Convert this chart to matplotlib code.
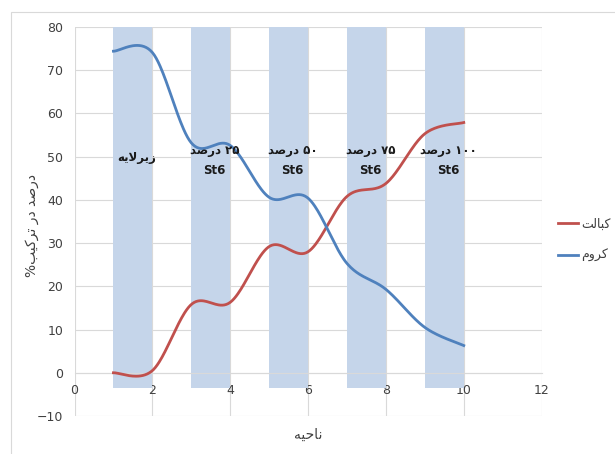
import numpy as np
import matplotlib
matplotlib.use("Agg")
import matplotlib.pyplot as plt
from matplotlib.patches import Rectangle
from matplotlib import font_manager
from matplotlib.ft2font import FT2Font

# ---------------- data ----------------
x_vals = [1, 2, 3, 4, 5, 6, 7, 8, 9, 10]
cobalt = [0.0, 0.5, 15.8, 16.3, 29.2, 28.0, 40.8, 43.8, 55.3, 57.9]   # کبالت
chrome = [74.4, 74.1, 53.2, 52.6, 40.6, 40.4, 25.3, 19.3, 10.5, 6.3]  # کروم
series_names = ["کبالت", "کروم"]
band_starts = [1, 3, 5, 7, 9]
band_bottom = -3.5
band_top = 80
band_labels_top = ["زیرلایه", "۲۵ درصد", "۵۰ درصد", "۷۵ درصد", "۱۰۰ درصد"]
band_labels_bottom = ["", "St6", "St6", "St6", "St6"]
x_ticks = [0, 2, 4, 6, 8, 10, 12]
y_ticks = [-10, 0, 10, 20, 30, 40, 50, 60, 70, 80]
x_title = "ناحیه"
y_title = "درصد در ترکیب%"

# ---------------- minimal Persian shaping (matplotlib has no RTL shaping) ----------------
_font_path = font_manager.findfont(font_manager.FontProperties(family='DejaVu Sans', weight='bold'))
_cmap = set(FT2Font(_font_path).get_charmap().keys())
_font_path2 = font_manager.findfont(font_manager.FontProperties(family='DejaVu Sans'))
_cmap &= set(FT2Font(_font_path2).get_charmap().keys())


def _ok(forms):
    return all(ord(c) in _cmap for c in forms if c)


FORMS = {
    'ا': ('\uFE8D', '\uFE8E', None, None),
    'ب': ('\uFE8F', '\uFE90', '\uFE91', '\uFE92'),
    'ت': ('\uFE95', '\uFE96', '\uFE97', '\uFE98'),
    'ح': ('\uFEA1', '\uFEA2', '\uFEA3', '\uFEA4'),
    'د': ('\uFEA9', '\uFEAA', None, None),
    'ر': ('\uFEAD', '\uFEAE', None, None),
    'ز': ('\uFEAF', '\uFEB0', None, None),
    'ص': ('\uFEB9', '\uFEBA', '\uFEBB', '\uFEBC'),
    'ل': ('\uFEDD', '\uFEDE', '\uFEDF', '\uFEE0'),
    'م': ('\uFEE1', '\uFEE2', '\uFEE3', '\uFEE4'),
    'ن': ('\uFEE5', '\uFEE6', '\uFEE7', '\uFEE8'),
    'ه': ('\uFEE9', '\uFEEA', '\uFEEB', '\uFEEC'),
    'و': ('\uFEED', '\uFEEE', None, None),
    'ک': ('\uFB8E', '\uFB8F', '\uFB90', '\uFB91'),
    'ی': ('\uFBFC', '\uFBFD', '\uFBFE', '\uFBFF'),
}
if not _ok(FORMS['ک']):
    FORMS['ک'] = ('\uFED9', '\uFEDA', '\uFEDB', '\uFEDC')
if not _ok(FORMS['ی']):
    FORMS['ی'] = ('\uFEEF', '\uFEF0', '\uFEF3', '\uFEF4')


def _dual(c):
    f = FORMS.get(c)
    return f is not None and f[2] is not None


def shape_word(w):
    out = []
    i = 0
    n = len(w)
    while i < n:
        c = w[i]
        if c not in FORMS:
            out.append(c)
            i += 1
            continue
        jp = i > 0 and _dual(w[i - 1])
        if c == 'ل' and i + 1 < n and w[i + 1] == 'ا':
            out.append('\uFEFC' if jp else '\uFEFB')
            i += 2
            continue
        jn = _dual(c) and i + 1 < n and w[i + 1] in FORMS
        f = FORMS[c]
        if jp and jn:
            out.append(f[3])
        elif jp:
            out.append(f[1])
        elif jn:
            out.append(f[2])
        else:
            out.append(f[0])
        i += 1
    return out


def fa(s):
    words = s.split(' ')
    vis = []
    for w in words:
        if all(ch.isdigit() for ch in w):
            vis.append(w)
        else:
            vis.append(''.join(reversed(shape_word(w))))
    return ' '.join(reversed(vis))


# ---------------- Excel-like smoothing (Catmull-Rom Bezier) ----------------
def smooth(xs, ys, n=40):
    xs = np.asarray(xs, float)
    ys = np.asarray(ys, float)
    px, py = [], []
    m = len(xs)
    for i in range(m - 1):
        x0, y0 = (xs[i - 1], ys[i - 1]) if i > 0 else (xs[i], ys[i])
        x1, y1 = xs[i], ys[i]
        x2, y2 = xs[i + 1], ys[i + 1]
        x3, y3 = (xs[i + 2], ys[i + 2]) if i + 2 < m else (xs[i + 1], ys[i + 1])
        c1x, c1y = x1 + (x2 - x0) / 6, y1 + (y2 - y0) / 6
        c2x, c2y = x2 - (x3 - x1) / 6, y2 - (y3 - y1) / 6
        t = np.linspace(0, 1, n, endpoint=(i == m - 2))
        a = (1 - t) ** 3
        b = 3 * (1 - t) ** 2 * t
        c = 3 * (1 - t) * t ** 2
        d = t ** 3
        px.append(a * x1 + b * c1x + c * c2x + d * x2)
        py.append(a * y1 + b * c1y + c * c2y + d * y2)
    return np.concatenate(px), np.concatenate(py)


# ---------------- figure ----------------
plt.rcParams['font.family'] = ['DejaVu Sans']
fig = plt.figure(figsize=(6.15, 4.54), dpi=100)
ax = fig.add_axes([74.5 / 615, 1 - 416 / 454, (541.6 - 74.5) / 615, (416 - 27) / 454])

# outer chart border
fig.patches.append(Rectangle((11 / 615, -0.01), 1.0, 1 - 12 / 454 + 0.01,
                             transform=fig.transFigure, fill=False,
                             edgecolor='#d9d9d9', linewidth=0.8))

band_color = '#c5d5ea'
ax.bar(band_starts, [band_top - band_bottom] * len(band_starts), bottom=band_bottom,
       width=1.0, align='edge', color=band_color, zorder=2)

red = '#c0504d'
blue = '#4f81bd'
sx, sy = smooth(x_vals, cobalt)
ax.plot(sx, sy, color=red, lw=2.0, zorder=4, label=fa(series_names[0]))
sx, sy = smooth(x_vals, chrome)
ax.plot(sx, sy, color=blue, lw=2.0, zorder=4, label=fa(series_names[1]))

# band labels
for xs, top, bot in zip(band_starts, band_labels_top, band_labels_bottom):
    if bot:
        ax.text(xs + 0.6, 51.5, fa(top), ha='center', va='center', fontsize=8.5,
                fontweight='bold', color='#1a1a1a', zorder=5)
        ax.text(xs + 0.6, 46.8, bot, ha='center', va='center', fontsize=8.5,
                fontweight='bold', color='#1a1a1a', zorder=5)
    else:
        ax.text(xs + 0.6, 49.8, fa(top), ha='center', va='center', fontsize=8.5,
                fontweight='bold', color='#1a1a1a', zorder=5)

ax.set_xlim(0, 12)
ax.set_ylim(-10, 80)
ax.set_xticks(x_ticks)
ax.set_yticks(y_ticks)
ax.grid(True, color='#d9d9d9', linewidth=0.8, zorder=1)
ax.set_axisbelow(True)
for s in ['top', 'right', 'left']:
    ax.spines[s].set_visible(False)
ax.spines['bottom'].set_position(('data', 0))
ax.spines['bottom'].set_color('#d9d9d9')
ax.spines['bottom'].set_linewidth(0.8)
ax.tick_params(axis='both', length=0, labelsize=9, colors='#404040')
ax.tick_params(axis='x', pad=8)
ax.tick_params(axis='y', pad=8)

ax.set_xlabel(fa(x_title), fontsize=10, color='#404040', labelpad=22)
ax.set_ylabel(fa(y_title), fontsize=10, color='#404040', labelpad=6)
ax.yaxis.set_label_coords(-35 / 467, 0.49)

leg = fig.legend(handles=ax.get_lines(), loc='center left',
                 bbox_to_anchor=(558 / 615, 1 - 240 / 454), frameon=False,
                 fontsize=9, handlelength=1.6, labelspacing=1.5, handletextpad=0.25,
                 borderpad=0.0, borderaxespad=0.0)
for t in leg.get_texts():
    t.set_color('#404040')

fig.savefig('out.png', dpi=100)
